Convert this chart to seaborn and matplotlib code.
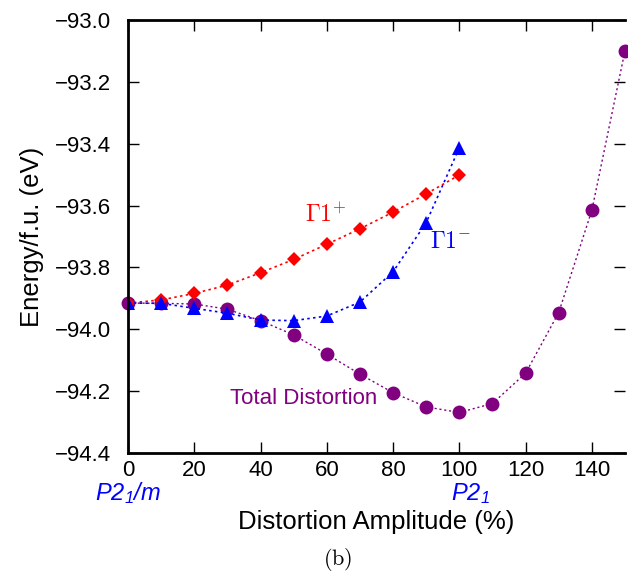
import numpy as np
import pandas as pd
import matplotlib
matplotlib.use("Agg")
import matplotlib.pyplot as plt
import seaborn as sns

# amplitudes (%)
amp_mode = [0, 10, 20, 30, 40, 50, 60, 70, 80, 90, 100]
amp_total = [0, 10, 20, 30, 40, 50, 60, 70, 80, 90, 100, 110, 120, 130, 140, 150]

# energies (eV / f.u.)
e_gamma_plus = [-93.915, -93.905, -93.884, -93.857, -93.817, -93.774,
                -93.725, -93.675, -93.621, -93.562, -93.501]
e_gamma_minus = [-93.915, -93.916, -93.932, -93.948, -93.970, -93.972,
                 -93.957, -93.912, -93.814, -93.655, -93.413]
e_total = [-93.915, -93.916, -93.918, -93.935, -93.972, -94.018, -94.080,
           -94.145, -94.205, -94.251, -94.269, -94.240, -94.142, -93.946,
           -93.615, -93.099]

df_plus = pd.DataFrame({"amp": amp_mode, "E": e_gamma_plus})
df_minus = pd.DataFrame({"amp": amp_mode, "E": e_gamma_minus})
df_total = pd.DataFrame({"amp": amp_total, "E": e_total})

sns.set_style("ticks")
plt.rcParams["font.family"] = ["Liberation Sans", "DejaVu Sans"]
plt.rcParams["text.color"] = "black"
plt.rcParams["axes.labelcolor"] = "black"
plt.rcParams["axes.edgecolor"] = "black"
plt.rcParams["xtick.color"] = "black"
plt.rcParams["ytick.color"] = "black"
# italic sans for the space-group labels (custom mathtext set)
plt.rcParams["mathtext.fontset"] = "custom"
plt.rcParams["mathtext.it"] = "Liberation Sans:italic"
plt.rcParams["mathtext.rm"] = "Liberation Sans:italic"

fig = plt.figure(figsize=(6.28, 5.74), dpi=100)
ax = fig.add_axes([0.2038, 0.2108, 0.7914, 0.7542])

dots = (0, (1.5, 2.0))
sns.lineplot(data=df_total, x="amp", y="E", ax=ax, color="#800080",
             marker="o", markersize=10, markeredgewidth=0, linestyle=dots,
             linewidth=1.0, clip_on=False)
sns.lineplot(data=df_plus, x="amp", y="E", ax=ax, color="#ff0000",
             marker="D", markersize=7, markeredgewidth=0, linestyle=dots,
             linewidth=1.2)
sns.lineplot(data=df_minus, x="amp", y="E", ax=ax, color="#0000ff",
             marker="^", markersize=10, markeredgewidth=0, linestyle=dots,
             linewidth=1.2)

ax.set_xlim(0, 150)
ax.set_ylim(-94.4, -93.0)
ax.set_xticks(np.arange(0, 141, 20))
yt = np.arange(-94.4, -92.99, 0.2)
ax.set_yticks(yt)
ax.set_yticklabels([f"\u2212{abs(v):.1f}" for v in yt])
ax.tick_params(direction="in", length=8, width=1, labelsize=16,
               top=True, right=True, pad=5)
ax.tick_params(axis="y", pad=12)
for s in ax.spines.values():
    s.set_linewidth(2)
ax.spines["right"].set_visible(False)

ax.set_xlabel("Distortion Amplitude (%)", fontsize=18.5, labelpad=21)
ax.set_ylabel("Energy/f.u. (eV)", fontsize=18.5, labelpad=8)

ax.text(53.5, -93.653, r"$\Gamma1^{+}$", color="#ff0000", fontsize=17,
        math_fontfamily="cm", ha="left", va="baseline")
ax.text(91.2, -93.737, r"$\Gamma1^{-}$", color="#0000ff", fontsize=17,
        math_fontfamily="cm", ha="left", va="baseline")
ax.text(30.8, -94.241, "Total Distortion", color="#800080", fontsize=16,
        ha="left", va="baseline")

xt = ax.get_xaxis_transform()
ax.text(0, -0.108, r"$\mathrm{P2_1/m}$", color="#0000ff", fontsize=17,
        ha="center", va="baseline", transform=xt)
ax.text(103.5, -0.108, r"$\mathrm{P2_1}$", color="#0000ff", fontsize=17,
        ha="center", va="baseline", transform=xt)

fig.text(338 / 628, 1 - 565 / 574, r"$\mathrm{(b)}$", fontsize=16,
         math_fontfamily="cm", ha="center", va="baseline")

fig.savefig("out.png", dpi=100)
